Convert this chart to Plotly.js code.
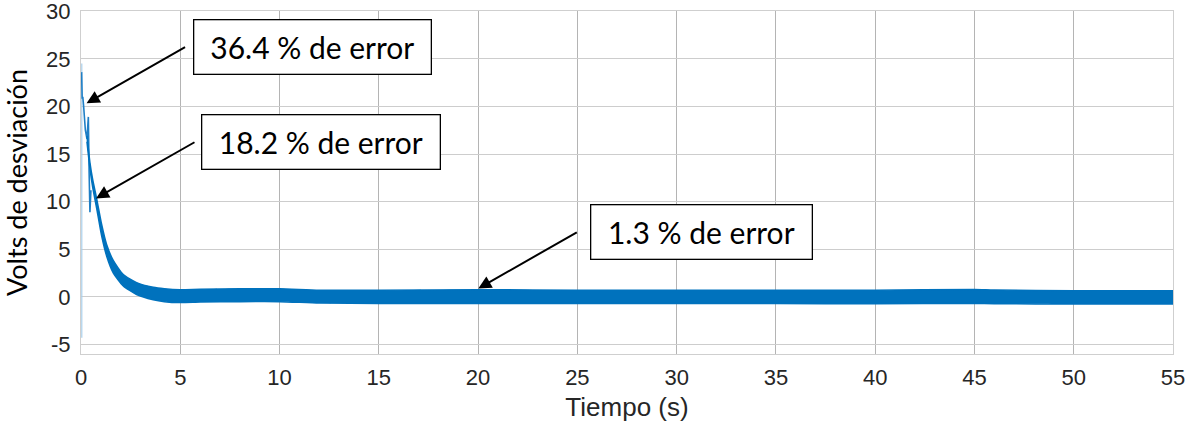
<!DOCTYPE html>
<html>
<head>
<meta charset="utf-8">
<script src="https://cdn.plot.ly/plotly-3.0.1.min.js"></script>
<style>html,body{margin:0;padding:0;background:#fff;} #chart{width:1188px;height:427px;}</style>
</head>
<body>
<div id="chart"></div>
<script>
// initial transient (thin light line at t ≈ 0)
const tInit = [0.04, 0.04];
const vInit = [-4.3, 24.5];

// first oscillations (thin line)
const tSpike = [0.03, 0.06, 0.09, 0.13, 0.22, 0.30, 0.37, 0.41, 0.45, 0.50];
const vSpike = [23.6, 20.8, 21.0, 20.1, 17.5, 16.6, 18.9, 13.0, 8.9, 11.2];

// main response band (envelope of the fast oscillation)
const tBand = [0.30, 0.45, 0.59, 0.79, 1.04, 1.29, 1.63, 2.13, 2.80, 3.64, 4.20, 5.00, 6.0, 8.0, 10.0, 12.0, 15.0, 20.0, 25.0, 30.0, 35.0, 40.0, 45.0, 46.0, 50.0, 55.0];
const vUpper = [16.9, 14.1, 12.3, 10.3, 7.6, 5.5, 3.8, 2.35, 1.5, 1.0, 0.85, 0.75, 0.8, 0.85, 0.85, 0.7, 0.7, 0.75, 0.7, 0.7, 0.7, 0.7, 0.78, 0.72, 0.65, 0.65];
const vLower = [16.3, 13.5, 11.5, 9.3, 6.4, 4.3, 2.5, 1.15, 0.25, -0.3, -0.5, -0.6, -0.55, -0.5, -0.5, -0.65, -0.7, -0.7, -0.7, -0.7, -0.7, -0.72, -0.7, -0.72, -0.75, -0.75];

// callouts
const noteText = ['36.4 % de error', '18.2 % de error', '1.3 % de error'];
const noteBoxX = [11.64, 12.07, 31.24];
const noteBoxY = [26.2, 16.22, 6.76];
const noteBoxW = [236, 237, 220];
const arrowTipX = [0.28, 0.755, 20.01];
const arrowTipY = [20.33, 10.34, 0.88];

const xTicks = [0, 5, 10, 15, 20, 25, 30, 35, 40, 45, 50, 55];
const xTickLabels = ['0', '5', '10', '15', '20', '25', '30', '35', '40', '45', '50', '55'];
const yTicks = [-5, 0, 5, 10, 15, 20, 25, 30];
const yTickLabels = ['-5', '0', '5', '10', '15', '20', '25', '30'];

const blue = '#0072BD';

const traces = [
  {x: tInit, y: vInit, mode: 'lines', line: {color: '#a9cfea', width: 1.2}, hoverinfo: 'skip', showlegend: false},
  {x: tSpike, y: vSpike, mode: 'lines', line: {color: '#1f7fc6', width: 1.6}, hoverinfo: 'skip', showlegend: false},
  {x: tBand, y: vLower, mode: 'lines', line: {color: blue, width: 1.5, shape: 'spline', smoothing: 0.6}, hoverinfo: 'skip', showlegend: false},
  {x: tBand, y: vUpper, mode: 'lines', fill: 'tonexty', fillcolor: blue, line: {color: blue, width: 1.5, shape: 'spline', smoothing: 0.6}, hoverinfo: 'skip', showlegend: false}
];

const annotations = [];
for (let i = 0; i < noteText.length; i++) {
  annotations.push({
    x: noteBoxX[i], y: noteBoxY[i], xref: 'x', yref: 'y',
    text: noteText[i], showarrow: false,
    width: noteBoxW[i], height: 53, align: 'center', valign: 'middle',
    bgcolor: '#ffffff', bordercolor: '#000000', borderwidth: 1.3, borderpad: 0,
    font: {family: 'Lato, Calibri, sans-serif', size: 30, color: '#000000'}
  });
  annotations.push({
    x: arrowTipX[i], y: arrowTipY[i], xref: 'x', yref: 'y',
    text: '', showarrow: true, ax: 100, ay: -57,
    arrowhead: 2, arrowsize: 1.3, arrowwidth: 2, arrowcolor: '#000000', standoff: 0
  });
}

const axisFont = {family: 'Liberation Sans, Arial, sans-serif', size: 22, color: '#262626'};

const layout = {
  width: 1188, height: 427,
  margin: {l: 81, r: 15, t: 11, b: 73, pad: 0},
  paper_bgcolor: '#ffffff', plot_bgcolor: '#ffffff',
  showlegend: false,
  xaxis: {
    range: [0, 55], tickvals: xTicks, ticktext: xTickLabels, ticks: '', ticklabelstandoff: 4,
    tickfont: axisFont, showgrid: true, gridcolor: '#b4b4b4', gridwidth: 1,
    zeroline: false, showline: true, mirror: true, linecolor: '#cfcfcf', linewidth: 1,
    ticklabeloverflow: 'allow',
    title: {text: 'Tiempo (s)', font: {family: 'Liberation Sans, Arial, sans-serif', size: 26, color: '#262626'}, standoff: 8}
  },
  yaxis: {
    range: [-6, 30.02], tickvals: yTicks, ticktext: yTickLabels, ticks: '', ticklabelstandoff: 5,
    tickfont: axisFont, showgrid: true, gridcolor: '#cdcdcd', gridwidth: 1,
    zeroline: false, showline: true, mirror: true, linecolor: '#cfcfcf', linewidth: 1,
    ticklabeloverflow: 'allow',
    title: {text: 'Volts de desviación', font: {family: 'Lato, Calibri, sans-serif', size: 27, color: '#000000'}, standoff: 18}
  },
  annotations: annotations
};

Plotly.newPlot('chart', traces, layout, {displayModeBar: false, staticPlot: true});
</script>
</body>
</html>
